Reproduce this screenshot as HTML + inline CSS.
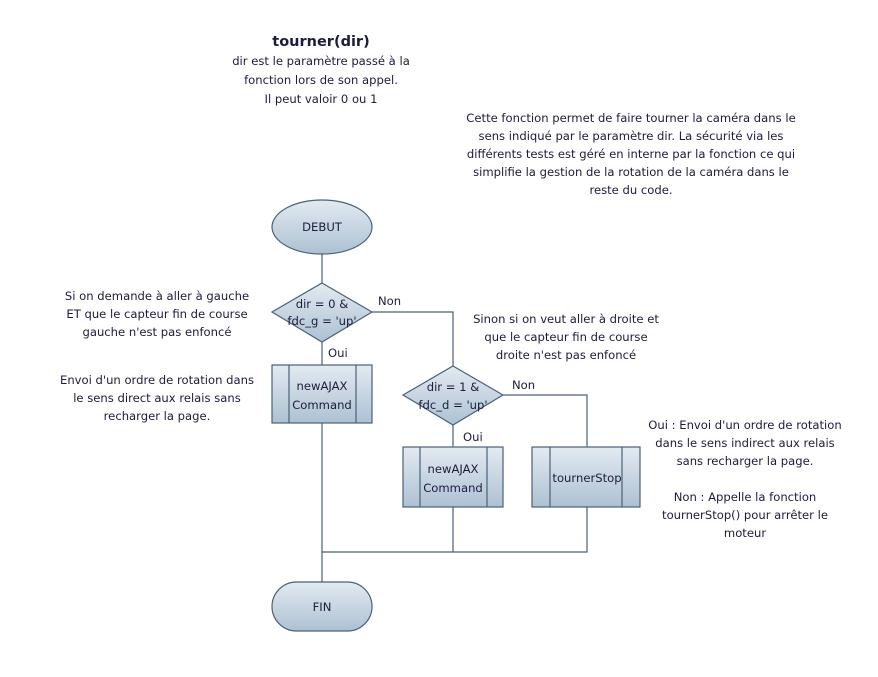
<!DOCTYPE html>
<html><head><meta charset="utf-8"><style>
html,body{margin:0;padding:0;background:#fff;}
svg{display:block;}
text{font-family:"DejaVu Sans",sans-serif;font-size:11.6px;fill:#1c1c3c;}
</style></head><body>
<svg width="878" height="677" viewBox="0 0 878 677" xmlns="http://www.w3.org/2000/svg">
<defs>
<linearGradient id="g" x1="0" y1="0" x2="0" y2="1">
<stop offset="0" stop-color="#e3eaf1"/><stop offset="1" stop-color="#adc1d3"/>
</linearGradient>
</defs>
<g stroke="#4a6178" stroke-width="1.2" fill="none">
<line x1="322" y1="253" x2="322" y2="283"/>
<line x1="322" y1="342" x2="322" y2="365"/>
<polyline points="372,312 453,312 453,366"/>
<polyline points="503,395 587,395 587,447"/>
<line x1="453" y1="425" x2="453" y2="447"/>
<line x1="322" y1="423" x2="322" y2="582"/>
<line x1="453" y1="507" x2="453" y2="552"/>
<polyline points="587,507 587,552 322,552"/>
</g>
<g stroke="#4a6178" stroke-width="1.2" fill="url(#g)">
<ellipse cx="322" cy="227" rx="50" ry="27"/>
<polygon points="322,283 372,312 322,342 272,312"/>
<rect x="272" y="365" width="100" height="58"/>
<polygon points="453,366 503,395 453,425 403,395"/>
<rect x="403" y="447" width="100" height="60"/>
<rect x="532" y="447" width="108" height="60"/>
<rect x="272" y="582" width="100" height="49" rx="24.5"/>
<line x1="289" y1="365" x2="289" y2="423"/>
<line x1="356" y1="365" x2="356" y2="423"/>
<line x1="420" y1="447" x2="420" y2="507"/>
<line x1="487" y1="447" x2="487" y2="507"/>
<line x1="550" y1="447" x2="550" y2="507"/>
<line x1="622" y1="447" x2="622" y2="507"/>
</g>
<g text-anchor="middle">
<text x="322" y="231">DEBUT</text>
<text x="322" y="308">dir = 0 &amp;</text>
<text x="322" y="325">fdc_g = 'up'</text>
<text x="322" y="390">newAJAX</text>
<text x="322" y="409">Command</text>
<text x="453" y="391">dir = 1 &amp;</text>
<text x="453" y="409">fdc_d = 'up'</text>
<text x="453" y="473">newAJAX</text>
<text x="453" y="492">Command</text>
<text x="587" y="482">tournerStop</text>
<text x="322" y="611">FIN</text>
<text x="321" y="46" style="font-weight:bold;font-size:14.5px">tourner(dir)</text>
<text x="321" y="65">dir est le paramètre passé à la</text>
<text x="321" y="84">fonction lors de son appel.</text>
<text x="321" y="103">Il peut valoir 0 ou 1</text>
<text x="631" y="122">Cette fonction permet de faire tourner la caméra dans le</text>
<text x="631" y="140">sens indiqué par le paramètre dir. La sécurité via les</text>
<text x="631" y="158">différents tests est géré en interne par la fonction ce qui</text>
<text x="631" y="176">simplifie la gestion de la rotation de la caméra dans le</text>
<text x="631" y="194">reste du code.</text>
<text x="157" y="300">Si on demande à aller à gauche</text>
<text x="157" y="318">ET que le capteur fin de course</text>
<text x="157" y="336">gauche n'est pas enfoncé</text>
<text x="157" y="384">Envoi d'un ordre de rotation dans</text>
<text x="157" y="402">le sens direct aux relais sans</text>
<text x="157" y="420">recharger la page.</text>
<text x="566" y="323">Sinon si on veut aller à droite et</text>
<text x="566" y="341">que le capteur fin de course</text>
<text x="566" y="359">droite n'est pas enfoncé</text>
<text x="745" y="429">Oui : Envoi d'un ordre de rotation</text>
<text x="745" y="447">dans le sens indirect aux relais</text>
<text x="745" y="465">sans recharger la page.</text>
<text x="745" y="501">Non : Appelle la fonction</text>
<text x="745" y="519">tournerStop() pour arrêter le</text>
<text x="745" y="537">moteur</text>
</g>
<text x="378" y="305">Non</text>
<text x="328" y="357">Oui</text>
<text x="512" y="389">Non</text>
<text x="463" y="441">Oui</text>
</svg>
</body></html>
